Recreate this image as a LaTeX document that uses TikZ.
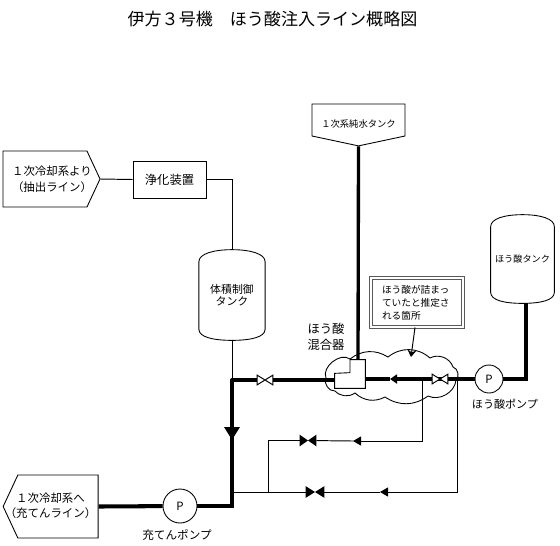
\documentclass[tikz,border=0pt]{standalone}
\usepackage{fontspec}
\setmainfont{Noto Sans CJK JP}
\usepackage{tikz}
\usetikzlibrary{arrows.meta,calc,shapes.symbols}
\newcommand{\fs}[2]{\fontsize{#1}{#2}\selectfont}

\begin{document}
\begin{tikzpicture}[x=0.02cm,y=-0.02cm,
  lab/.style={inner sep=0pt,align=center},
  sig/.style={draw,line width=.5pt,signal,inner sep=0pt,minimum width=#1},
  tankbody/.style={inner sep=0pt,align=center,minimum width=1.31cm,minimum height=1.8cm},
  valve/.style={inner sep=0pt,minimum width=#1},
  pump/.style={draw,circle,inner sep=0pt,fill=white,line width=.5pt,font=\fs{6.5}{8},minimum size=#1},
  thin/.style={line width=.55pt},
  thick/.style={line width=1.9pt},
  thicker/.style={line width=2.3pt}]
  \useasboundingbox (0,0) rectangle (560,545);
  \node[lab,font=\fs{9.7}{12}] (title) at (272.5,19) {伊方３号機　ほう酸注入ライン概略図};

  % sources and tanks
  \node[sig=1.94cm,minimum height=1.12cm,signal to=east,signal pointer angle=130] (src) at (45,179) {};
  \node[lab,font=\fs{6.5}{9}] (srct) at (52,179) {１次冷却系より\\（抽出ライン）};
  \node[draw,line width=.5pt,minimum width=1.46cm,minimum height=.74cm,inner sep=0pt,font=\fs{7}{9}] (pur) at (169.5,179.5) {浄化装置};
  \node[tankbody,font=\fs{6.2}{7.2}] (vct) at (232,295) {体積制御\\タンク};
  \node[tankbody,minimum height=1.76cm,minimum width=1.26cm,font=\fs{5.2}{7}] (bat) at (522.5,259) {ほう酸タンク};
  \node[sig=1.86cm,minimum height=.64cm,signal to=south,signal pointer angle=156] (pwt) at (358.5,120) {};
  \node[lab,font=\fs{5.3}{7}] (pwtt) at (358.5,124) {１次系純水タンク};
  \node[sig=1.9cm,minimum height=1.26cm,signal to=west,signal pointer angle=130] (chg) at (58,506.5) {};
  \node[lab,font=\fs{6.5}{8.5}] (chgt) at (50.5,506) {１次冷却系へ\\（充てんライン）};
  \foreach \n in {vct,bat}
    \draw[line width=.5pt] ($(\n.north west)+(0,12)$) .. controls +(0,-8) and +(-18,0) .. (\n.north)
      .. controls +(18,0) and +(0,-8) .. ($(\n.north east)+(0,12)$) -- ($(\n.south east)+(0,-11)$)
      .. controls +(0,8) and +(18,0) .. (\n.south)
      .. controls +(-18,0) and +(0,8) .. ($(\n.south west)+(0,-11)$) -- cycle;

  % cloud goes under the pipes
  \draw[line width=.5pt] (326,378) to[bend left=75] (350,359) to[bend left=35] (388,357)
    to[bend left=40] (430,358) to[bend left=50] (453,367) to[bend left=60] (456,380)
    to[bend left=55] (428,396) to[bend left=35] (385,397) to[bend left=35] (355,393)
    to[bend left=40] (335,391) to[bend left=60] cycle;

  \coordinate (tv) at (232,380);
  \coordinate (tp) at (232,506);
  \coordinate (tb) at (232,492);
  \coordinate (ta) at (268,492);
  \coordinate (t1) at (422,379);
  \coordinate (t2) at (457,379);
  \coordinate (bs) at (526,303);
  \node[valve=.3cm,minimum height=.18cm] (v1) at (265,380) {};
  \node[valve=.3cm,minimum height=.18cm] (v2) at (440,379) {};
  \node[valve=.32cm,minimum height=.22cm] (v3) at (308,440.5) {};
  \node[valve=.36cm,minimum height=.22cm] (v4) at (315,492) {};
  \node[pump=.56cm] (pb) at (489,379) {P};
  \node[pump=.68cm] (pc) at (180,506) {P};
  \node[lab,font=\fs{6.3}{8}] (pbt) at (505,404) {ほう酸ポンプ};
  \node[lab,font=\fs{6.6}{8}] (pct) at (177,535) {充てんポンプ};
  \node[lab,font=\fs{7}{9.4}] (mixt) at (326,337) {ほう酸\\混合器};
  \coordinate (a1) at (390,379);
  \coordinate (a2) at (353,441);
  \coordinate (a3) at (380,492);
  \coordinate (a4) at (232,440);

  % thin lines
  \draw[thin] (src.east) -- (pur.west);
  \draw[thin] (pur.east) -| (vct.north);
  \draw[thin] (vct.south) -- (tv);
  \draw[thin,-{Triangle[length=.16cm,width=.18cm]}] (t1) |- (a2);
  \draw[thin] (a2) -- (v3);
  \draw[thin] (v3) -| (ta);
  \draw[thin,-{Triangle[length=.16cm,width=.18cm]}] (t2) |- (a3);
  \draw[thin] (a3) -- (v4);
  \draw[thin] (v4) -- (tb);
  % thick lines
  \draw[thick] (pwt.south) -- (358,362);
  \draw[thick] (tv) -- (v1);
  \draw[thick] (v1) -- (335,380);
  \draw[thick,-{Triangle[length=.14cm,width=.18cm]}] (pb) -- (a1);
  \draw[thick] (a1) -- (365,379);
  \draw[thick] (bs) |- (pb);
  \draw[thicker] (chg.east) -- (pc);
  \draw[thicker] (pc) -| (a4);
  \draw[thicker,line cap=round] (tv) -- (a4);
  \draw[thicker,-{Triangle[length=.26cm,width=.3cm]}] (tv) -- (a4);

  % valves over the pipes
  \foreach \n in {v1,v2}
    \draw[thin,fill=white] (\n.north west) -- (\n.south east) -- (\n.north east) -- (\n.south west) -- cycle;
  \foreach \n in {v3,v4}
    \fill (\n.north west) -- (\n.south east) -- (\n.north east) -- (\n.south west) -- cycle;

  % mixer
  \node[inner sep=0pt,minimum width=.6cm,minimum height=.56cm] (mix) at (350,374) {};
  \draw[line width=.5pt,fill=white] (mix.north east) -- (mix.south east) -- (mix.south west)
    -- ($(mix.south west)+(0,-15)$) -- ($(mix.north)+(0,13)$) -- (mix.north) -- cycle;

  % note
  \node[draw=black!65,double,double distance=.8pt,line width=.5pt,fill=white,text width=1.4cm,
        inner xsep=.22cm,inner ysep=0pt,minimum height=.98cm,
        font=\fs{5.5}{7.3},align=left] (note) at (417,302.5) {ほう酸が詰まっ\\ていたと推定さ\\れる箇所};
  \draw[thin,-{Stealth[length=.14cm,width=.18cm]}] (note.south) ++(-2,0) -- (411,357);
\end{tikzpicture}
\end{document}
